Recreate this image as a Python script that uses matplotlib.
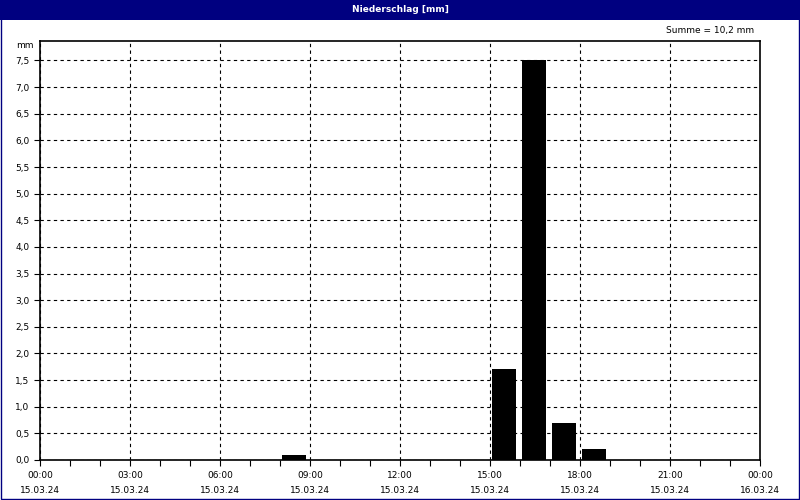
import matplotlib
matplotlib.use('Agg')
import matplotlib.pyplot as plt
from matplotlib.patches import Rectangle
from matplotlib.ticker import MultipleLocator

# hourly precipitation (hour of day -> mm)
hours = [8, 15, 16, 17, 18]
values = [0.1, 1.7, 7.5, 0.7, 0.2]

tick_hours = [0, 3, 6, 9, 12, 15, 18, 21, 24]
tick_times = ['00:00', '03:00', '06:00', '09:00', '12:00', '15:00', '18:00', '21:00', '00:00']
tick_dates = ['15.03.24'] * 8 + ['16.03.24']
y_ticks = [i * 0.5 for i in range(16)]

navy = '#000080'
fs = 6.5

fig = plt.figure(figsize=(8, 5), dpi=100)
fig.patch.set_facecolor('white')

# title bar and frame
fig.patches.append(Rectangle((0, 0.96), 1, 0.04, transform=fig.transFigure,
                             facecolor=navy, edgecolor='none', zorder=0))
fig.patches.append(Rectangle((0.001, 0.002), 0.998, 0.996, transform=fig.transFigure,
                             facecolor='none', edgecolor=navy, lw=1.0, zorder=5))
fig.text(0.5, 0.98, 'Niederschlag [mm]', color='white', ha='center', va='center',
         fontsize=fs, fontweight='bold')

ax = fig.add_axes([0.05, 0.08, 0.90, 0.839])
ax.bar([h + 0.07 for h in hours], values, width=0.8, align='edge', color='black',
       zorder=3)

ax.set_xlim(0, 24)
ax.set_ylim(0, 7.875)
ax.set_xticks(tick_hours)
ax.set_xticklabels([f'{t}\n{d}' for t, d in zip(tick_times, tick_dates)],
                   fontsize=fs, linespacing=1.8)
ax.xaxis.set_minor_locator(MultipleLocator(1))
ax.set_yticks(y_ticks)
ax.set_yticklabels([f'{v:.1f}'.replace('.', ',') for v in y_ticks], fontsize=fs)
ax.tick_params(axis='both', which='both', length=4, width=0.8, color='black')
ax.tick_params(axis='x', pad=4)

ax.grid(True, which='major', color='black', linestyle=(0, (3, 3)), linewidth=0.8)
ax.set_axisbelow(True)
for s in ax.spines.values():
    s.set_linewidth(1.2)

fig.text(0.031, 0.91, 'mm', fontsize=fs, ha='center', va='center')
fig.text(0.943, 0.94, 'Summe = 10,2 mm', fontsize=fs, ha='right', va='center')

fig.savefig('out.png', dpi=100)
